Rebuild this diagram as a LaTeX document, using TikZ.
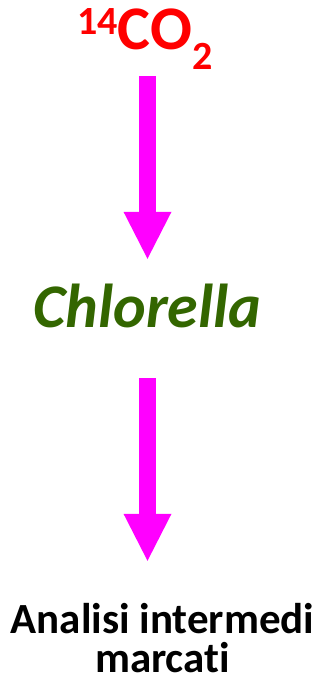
\documentclass[tikz,border=0pt]{standalone}
\usepackage{fontspec}
\setmainfont[Ligatures=NoCommon]{Carlito}
\usepackage{xcolor}
\definecolor{cred}{HTML}{FF0000}
\definecolor{cmag}{HTML}{FF00FF}
\definecolor{cgreen}{HTML}{336600}
\usetikzlibrary{arrows.meta}

\begin{document}
\begin{tikzpicture}[x=1pt,y=-1pt,
  lbl/.style={inner sep=0pt,anchor=base,font=\bfseries},
  arr/.style={draw=cmag,line width=17pt,-{Triangle[length=47pt,width=48pt,line width=0pt]}}]
\useasboundingbox (0,0) rectangle (330,687);
\node[lbl,text=cred,text height=39pt,text depth=20pt] (co2) at (145,50) {\raisebox{15pt}{\fontsize{40}{40}\selectfont 14}\fontsize{62}{62}\selectfont CO\raisebox{-20pt}{\fontsize{40}{40}\selectfont 2}};
\node[lbl,text=cgreen,text height=44pt,text depth=14pt] (chl) at (147.5,327) {\fontsize{62}{62}\selectfont\itshape Chlorella};
\node[lbl,text height=33pt] (ana1) at (162.5,633) {\fontsize{43}{43}\selectfont Analisi intermedi};
\node[lbl] (ana2) at (162.5,672) {\fontsize{43}{43}\selectfont marcati};
\draw[arr,shorten <=6pt,shorten >=24pt] (co2.south -| chl.north) -- (chl.north);
\draw[arr,shorten <=37pt,shorten >=39pt] (chl.south) -- (ana1.north -| chl.south);
\end{tikzpicture}
\end{document}
